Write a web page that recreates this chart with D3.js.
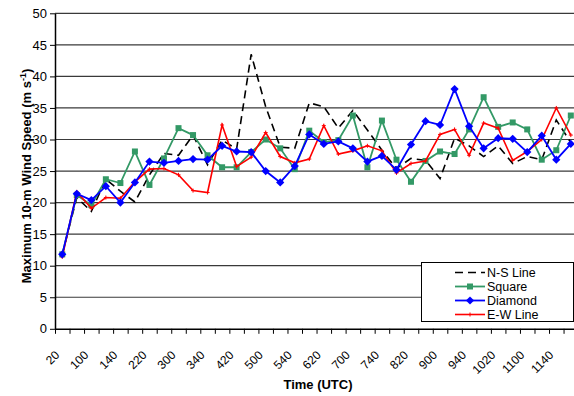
<!DOCTYPE html>
<html><head><meta charset="utf-8">
<script src="https://cdn.jsdelivr.net/npm/d3@7"></script>
<style>
html,body{margin:0;padding:0;background:#fff;}
svg{display:block;font-family:"Liberation Sans",Arial,sans-serif;}
</style></head>
<body>
<svg id="chart" width="574" height="396"></svg>
<script>
const times = ["20","40","100","120","140","200","220","240","300","320","340","400","420","440","500","520","540","600","620","640","700","720","740","800","820","840","900","920","940","1000","1020","1040","1100","1120","1140","1200"];
const nsLine = [11.8,20.8,18.6,23.7,21.8,20.1,24.4,27.8,27.5,30.7,26.0,29.9,28.5,43.5,35.2,28.8,28.6,35.8,35.2,31.8,34.6,31.5,28.3,25.4,27.0,26.7,23.8,30.2,29.0,27.3,29.0,26.2,27.3,26.8,33.1,29.5];
const square = [11.8,21.2,19.6,23.7,23.1,28.1,22.8,27.0,31.8,30.7,27.5,25.6,25.6,28.0,30.0,28.6,25.3,31.4,29.6,29.9,33.8,25.6,33.0,26.8,23.3,26.6,28.1,27.7,31.6,36.7,32.0,32.7,31.6,26.8,28.3,33.8];
const diamond = [11.8,21.4,20.4,22.6,20.0,23.2,26.5,26.3,26.6,26.9,26.8,29.0,28.1,28.0,25.0,23.2,25.8,30.8,29.3,29.7,28.6,26.5,27.4,25.2,29.2,32.9,32.3,38.0,32.1,28.6,30.2,30.1,28.0,30.6,26.8,29.3];
const ewLine = [11.4,21.7,19.1,20.8,20.7,23.3,25.3,25.4,24.4,21.9,21.6,32.3,25.7,27.2,31.1,27.3,26.3,26.9,32.2,27.7,28.2,29.0,28.2,24.7,26.2,26.6,30.8,31.6,27.5,32.6,31.8,26.7,28.1,30.0,35.0,30.7];
const yTicks = [0,5,10,15,20,25,30,35,40,45,50];
const seriesNames = ["N-S Line","Square","Diamond","E-W Line"];

const svg = d3.select("#chart");
const pL = 55, pR = 55 + 36*14.53, pT = 13.3, pB = 328.8;

const x = d3.scaleBand().domain(times).range([pL, pR]).paddingInner(0).paddingOuter(0);
const xb = d3.scaleLinear().domain([0, times.length]).range([pL, pR]);
const y = d3.scaleLinear().domain([0, 50]).range([pB, pT]);
const cx = d => x(d) + x.bandwidth()/2;

// gridlines
svg.append("g").selectAll("line").data(yTicks.filter(v => v > 0)).join("line")
  .attr("x1", pL).attr("x2", pR)
  .attr("y1", d => y(d)).attr("y2", d => y(d))
  .attr("stroke", "#3a3a3a").attr("stroke-width", 1.2);

// y axis
const ya = svg.append("g").attr("transform", `translate(${pL},0)`)
  .call(d3.axisLeft(y).tickValues(yTicks).tickSize(5).tickSizeOuter(0).tickPadding(3));
ya.select(".domain").attr("stroke", "#000").attr("stroke-width", 1.5);
ya.selectAll(".tick line").attr("stroke", "#000");
ya.selectAll(".tick text").attr("font-size", 13).attr("fill", "#000")
  .attr("font-family", "'Liberation Sans', Arial, sans-serif");

// x axis
const xa = svg.append("g").attr("transform", `translate(0,${pB})`)
  .call(d3.axisBottom(xb).tickValues(d3.range(times.length + 1)).tickSize(5).tickSizeOuter(0).tickFormat(""));
xa.select(".domain").attr("stroke", "#000").attr("stroke-width", 1.5);
xa.selectAll(".tick line").attr("stroke", "#000");

// x tick labels (every other category)
svg.append("g").selectAll("text").data(times.filter((d, i) => i % 2 === 0)).join("text")
  .attr("transform", d => `translate(${cx(d) - 8},${pB + 21}) rotate(-45)`)
  .attr("text-anchor", "end").attr("dy", "0.7em")
  .attr("font-size", 12).attr("fill", "#000")
  .attr("font-family", "'Liberation Sans', Arial, sans-serif")
  .text(d => d);

// lines
const line = vals => d3.line().x((d, i) => cx(times[i])).y(d => y(d))(vals);

const gPlot = svg.append("g");
gPlot.append("path").attr("d", line(nsLine)).attr("fill", "none")
  .attr("stroke", "#000").attr("stroke-width", 1.6).attr("stroke-dasharray", "8,5");

gPlot.append("path").attr("d", line(square)).attr("fill", "none")
  .attr("stroke", "#339966").attr("stroke-width", 1.8);
gPlot.append("g").selectAll("rect").data(square).join("rect")
  .attr("x", (d, i) => cx(times[i]) - 3).attr("y", d => y(d) - 3)
  .attr("width", 6).attr("height", 6).attr("fill", "#339966");

gPlot.append("path").attr("d", line(ewLine)).attr("fill", "none")
  .attr("stroke", "#ff0000").attr("stroke-width", 1.6);
gPlot.append("g").selectAll("path").data(ewLine).join("path")
  .attr("d", (d, i) => { const px = cx(times[i]), py = y(d); return `M${px-2},${py}H${px+2}M${px},${py-2}V${py+2}`; })
  .attr("stroke", "#ff0000").attr("stroke-width", 1);

gPlot.append("path").attr("d", line(diamond)).attr("fill", "none")
  .attr("stroke", "#0000ff").attr("stroke-width", 1.8);
gPlot.append("g").selectAll("path").data(diamond).join("path")
  .attr("transform", (d, i) => `translate(${cx(times[i])},${y(d)}) rotate(45)`)
  .attr("d", d3.symbol().type(d3.symbolSquare).size(34))
  .attr("fill", "#0000ff");

// axis titles
svg.append("text").attr("x", 318).attr("y", 389).attr("text-anchor", "middle")
  .attr("font-size", 13).attr("font-weight", "bold").text("Time (UTC)");

const yt = svg.append("text").attr("transform", "translate(31,176) rotate(-90)")
  .attr("text-anchor", "middle").attr("font-size", 13).attr("font-weight", "bold");
yt.append("tspan").text("Maximum 10-m Wind Speed (m s");
yt.append("tspan").attr("font-size", 9).attr("dy", -5).text("-1");
yt.append("tspan").attr("dy", 5).text(")");

// legend
const lg = svg.append("g");
lg.append("rect").attr("x", 421.5).attr("y", 262.5).attr("width", 152).attr("height", 59)
  .attr("fill", "#fff").attr("stroke", "#000").attr("stroke-width", 1);
const rowsY = [272.5, 286.5, 300.5, 314.5];
const lx1 = 455, lx2 = 485, lmid = 470;
lg.append("line").attr("x1", lx1).attr("x2", lx2).attr("y1", rowsY[0]).attr("y2", rowsY[0])
  .attr("stroke", "#000").attr("stroke-width", 1.6).attr("stroke-dasharray", "8,5");
lg.append("line").attr("x1", lx1).attr("x2", lx2).attr("y1", rowsY[1]).attr("y2", rowsY[1])
  .attr("stroke", "#339966").attr("stroke-width", 1.8);
lg.append("rect").attr("x", lmid - 3).attr("y", rowsY[1] - 3).attr("width", 6).attr("height", 6).attr("fill", "#339966");
lg.append("line").attr("x1", lx1).attr("x2", lx2).attr("y1", rowsY[2]).attr("y2", rowsY[2])
  .attr("stroke", "#0000ff").attr("stroke-width", 1.8);
lg.append("path").attr("transform", `translate(${lmid},${rowsY[2]}) rotate(45)`)
  .attr("d", d3.symbol().type(d3.symbolSquare).size(34)).attr("fill", "#0000ff");
lg.append("line").attr("x1", lx1).attr("x2", lx2).attr("y1", rowsY[3]).attr("y2", rowsY[3])
  .attr("stroke", "#ff0000").attr("stroke-width", 1.6);
lg.append("path").attr("d", `M${lmid-2},${rowsY[3]}H${lmid+2}M${lmid},${rowsY[3]-2}V${rowsY[3]+2}`)
  .attr("stroke", "#ff0000").attr("stroke-width", 1);
lg.selectAll("text.lt").data(seriesNames).join("text").attr("class", "lt")
  .attr("x", 487).attr("y", (d, i) => rowsY[i]).attr("dy", "0.36em")
  .attr("font-size", 12.5).attr("fill", "#000").text(d => d);
</script>
</body></html>
